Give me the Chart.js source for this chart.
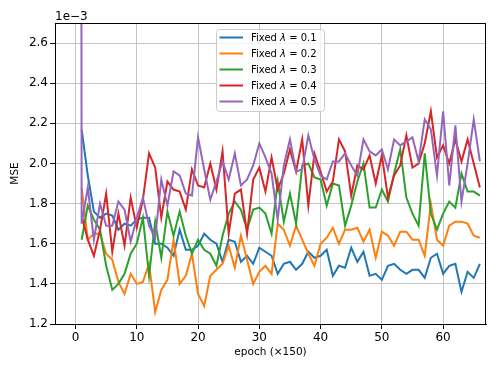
<!DOCTYPE html>
<html>
<head>
<meta charset="utf-8">
<script src="https://cdn.jsdelivr.net/npm/chart.js@4.4.1/dist/chart.umd.min.js"></script>
<style>
  html, body { margin: 0; padding: 0; background: #fff; }
  #chart { display: block; }
</style>
</head>
<body>
<canvas id="chart" width="498" height="374"></canvas>
<script>
// values are in units of 1e-3
const lambdas = ['0.1', '0.2', '0.3', '0.4', '0.5'];
const colors = ['#1f77b4', '#ff7f0e', '#2ca02c', '#d62728', '#9467bd'];
const firstEpoch = [1, 1, 1, 1, 0];

const mseLambda01 = [2.17, 1.94, 1.76, 1.73, 1.75, 1.74, 1.67, 1.70, 1.69, 1.72,
    1.73, 1.73, 1.60, 1.60, 1.58, 1.54, 1.67, 1.57, 1.57, 1.59,
    1.65, 1.62, 1.60, 1.51, 1.62, 1.61, 1.51, 1.54, 1.50, 1.58,
    1.56, 1.54, 1.45, 1.50, 1.51, 1.47, 1.50, 1.56, 1.53, 1.54,
    1.57, 1.44, 1.49, 1.48, 1.58, 1.51, 1.56, 1.44, 1.45, 1.42,
    1.49, 1.50, 1.47, 1.45, 1.47, 1.47, 1.43, 1.53, 1.55, 1.45,
    1.49, 1.50, 1.36, 1.46, 1.43, 1.50];
const mseLambda02 = [1.88, 1.62, 1.65, 1.65, 1.55, 1.52, 1.41, 1.35, 1.45, 1.40,
    1.41, 1.50, 1.26, 1.37, 1.42, 1.62, 1.40, 1.44, 1.55, 1.35,
    1.29, 1.44, 1.47, 1.50, 1.59, 1.48, 1.64, 1.52, 1.40, 1.46,
    1.49, 1.45, 1.70, 1.67, 1.59, 1.69, 1.62, 1.55, 1.49, 1.60,
    1.63, 1.68, 1.60, 1.67, 1.67, 1.68, 1.61, 1.67, 1.53, 1.66,
    1.64, 1.59, 1.66, 1.66, 1.62, 1.62, 1.54, 1.80, 1.62, 1.59,
    1.69, 1.71, 1.71, 1.70, 1.64, 1.63];
const mseLambda03 = [1.62, 1.79, 1.72, 1.67, 1.49, 1.37, 1.40, 1.45, 1.55, 1.60,
    1.73, 1.44, 1.71, 1.53, 1.76, 1.64, 1.76, 1.64, 1.55, 1.62,
    1.57, 1.55, 1.49, 1.64, 1.75, 1.81, 1.77, 1.67, 1.77, 1.78,
    1.75, 1.65, 1.91, 1.71, 1.85, 1.70, 1.99, 2.00, 1.93, 1.92,
    1.79, 1.90, 1.89, 1.69, 1.79, 1.91, 2.00, 1.78, 1.78, 1.87,
    1.81, 1.95, 2.07, 1.83, 1.75, 1.69, 2.05, 1.75, 1.67, 1.75,
    1.81, 1.78, 1.95, 1.86, 1.86, 1.84];
const mseLambda04 = [1.74, 1.62, 1.54, 1.67, 1.85, 1.56, 1.75, 1.59, 1.83, 1.68,
    1.82, 2.05, 1.98, 1.73, 1.91, 1.87, 1.86, 1.77, 1.97, 1.89,
    1.88, 2.00, 1.87, 2.06, 1.65, 1.85, 1.87, 1.65, 1.92, 1.98,
    1.86, 2.03, 1.87, 1.95, 2.07, 1.96, 2.12, 1.79, 2.05, 1.96,
    1.86, 1.91, 2.12, 2.06, 1.84, 1.99, 1.97, 2.04, 1.90, 2.04,
    1.83, 1.94, 1.99, 2.14, 1.98, 2.00, 2.10, 2.26, 2.03, 2.09,
    2.00, 2.12, 2.01, 2.12, 2.00, 1.88];
const mseLambda05 = [30.0, 1.70, 1.88, 1.62, 1.80, 1.69, 1.69, 1.81, 1.77, 1.61, 1.73,
    1.83, 1.69, 1.63, 1.92, 1.79, 1.96, 1.94, 1.85, 1.84, 2.13,
    1.97, 1.82, 1.91, 2.01, 1.92, 2.05, 1.89, 1.92, 1.99, 2.10,
    2.03, 1.95, 1.72, 1.99, 2.12, 1.96, 1.97, 2.14, 2.02, 1.94,
    1.92, 2.01, 2.01, 2.05, 1.99, 1.94, 2.12, 2.06, 2.04, 2.07,
    1.97, 2.12, 2.09, 2.11, 2.13, 2.01, 2.22, 2.17, 1.94, 2.26,
    1.89, 2.19, 1.81, 2.00, 2.22, 2.01];

const series = [mseLambda01, mseLambda02, mseLambda03, mseLambda04, mseLambda05];
const xTicks = [0, 10, 20, 30, 40, 50, 60];
const yTicks = [1.2, 1.4, 1.6, 1.8, 2.0, 2.2, 2.4, 2.6];

const FONT = 'DejaVu Sans';

const datasets = series.map((values, i) => ({
    label: 'Fixed λ = ' + lambdas[i],
    data: values.map((v, j) => ({ x: firstEpoch[i] + j, y: v })),
    borderColor: colors[i],
    backgroundColor: colors[i],
    borderWidth: 2,
    pointRadius: 0,
    tension: 0,
    fill: false,
    order: series.length - 1 - i,
}));

const extras = {
    id: 'extras',
    afterDatasetsDraw(chart) {
        const ctx = chart.ctx;
        const a = chart.chartArea;
        ctx.save();
        // axes frame
        ctx.strokeStyle = '#000';
        ctx.lineWidth = 1;
        ctx.strokeRect(Math.round(a.left) + 0.5, Math.round(a.top) + 0.5,
            Math.round(a.right - a.left) - 1, Math.round(a.bottom - a.top));

        // offset text
        ctx.fillStyle = '#000';
        ctx.font = '12px "' + FONT + '"';
        ctx.textAlign = 'left';
        ctx.textBaseline = 'alphabetic';
        ctx.fillText('1e\u22123', a.left, a.top - 3);

        // legend
        const bx = 216.5, by = 29.5, bw = 108, bh = 82;
        ctx.fillStyle = 'rgba(255,255,255,0.8)';
        ctx.strokeStyle = '#cccccc';
        ctx.beginPath();
        ctx.roundRect(bx, by, bw, bh, 3);
        ctx.fill();
        ctx.stroke();
        lambdas.forEach((lam, i) => {
            const y = 37.5 + 16 * i;
            ctx.strokeStyle = colors[i];
            ctx.lineWidth = 2;
            ctx.beginPath();
            ctx.moveTo(219.5, y);
            ctx.lineTo(243, y);
            ctx.stroke();
            ctx.fillStyle = '#000';
            ctx.textBaseline = 'middle';
            let x = 251;
            ctx.font = '10px "' + FONT + '"';
            ctx.fillText('Fixed ', x, y + 0.5);
            x += ctx.measureText('Fixed ').width;
            ctx.font = 'italic 10px "' + FONT + '"';
            ctx.fillText('λ', x, y + 0.5);
            x += ctx.measureText('λ').width;
            ctx.font = '10px "' + FONT + '"';
            ctx.fillText(' = ' + lam, x, y + 0.5);
        });
        ctx.restore();
    }
};

new Chart(document.getElementById('chart'), {
    type: 'line',
    data: { datasets: datasets },
    options: {
        responsive: false,
        animation: false,
        devicePixelRatio: 1,
        layout: { padding: { left: 0, right: 12, top: 23, bottom: 0 } },
        plugins: {
            legend: { display: false },
            tooltip: { enabled: false },
        },
        scales: {
            x: {
                type: 'linear',
                min: -3.35,
                max: 67.0,
                afterBuildTicks: (s) => { s.ticks = xTicks.map(v => ({ value: v })); },
                afterFit: (s) => { s.height = 50; },
                ticks: {
                    color: '#000',
                    font: { family: FONT, size: 12 },
                    padding: 2,
                    maxRotation: 0,
                    callback: (v) => String(v),
                },
                grid: { color: '#c4c4c4', lineWidth: 1, tickColor: '#000', tickLength: 5 },
                border: { display: true, color: '#000', width: 1 },
                title: {
                    display: true,
                    text: 'epoch (×150)',
                    color: '#000',
                    font: { family: FONT, size: 10.5 },
                    padding: 15,
                },
            },
            y: {
                type: 'linear',
                min: 1.2,
                max: 2.7,
                afterBuildTicks: (s) => { s.ticks = yTicks.map(v => ({ value: v })); },
                afterFit: (s) => { s.width = 55; },
                ticks: {
                    color: '#000',
                    font: { family: FONT, size: 12 },
                    padding: 2,
                    callback: (v) => v.toFixed(1),
                },
                grid: { color: '#c4c4c4', lineWidth: 1, tickColor: '#000', tickLength: 5 },
                border: { display: true, color: '#000', width: 1 },
                title: {
                    display: true,
                    text: 'MSE',
                    color: '#000',
                    font: { family: FONT, size: 10.5 },
                    padding: 9,
                },
            },
        },
    },
    plugins: [extras],
});
</script>
</body>
</html>
